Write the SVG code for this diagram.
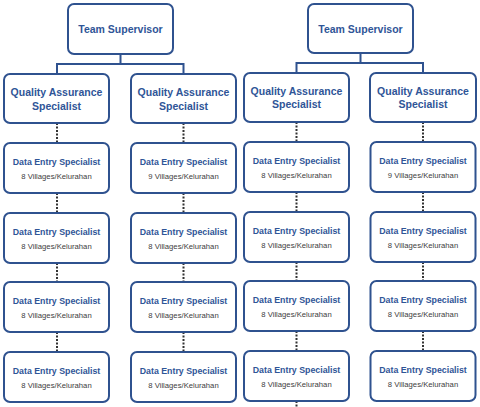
<svg xmlns="http://www.w3.org/2000/svg" width="480" height="407" viewBox="0 0 480 407">
<style>
.box{fill:#fff;stroke:#2f528f;stroke-width:2}
.t{font-family:"Liberation Sans",Arial,sans-serif;font-weight:bold;fill:#2f5597;text-anchor:middle}
.big{font-size:10.5px}
.mid{font-size:8.8px}
.sub{font-family:"Liberation Sans",Arial,sans-serif;font-size:7.7px;fill:#404040;text-anchor:middle}
.solid{fill:none;stroke:#2f528f;stroke-width:2}
.dot{fill:none;stroke:#333;stroke-width:2;stroke-dasharray:2 1.5}
</style>
<defs>
<g id="des">
<rect class="box" x="0" y="0" width="105" height="50" rx="6"/>
<text class="t mid" x="52.5" y="22">Data Entry Specialist</text>
</g>
</defs>
<g id="connectors">
<path class="solid" d="M120.5,54V64M57,64H183.5M57,63V74M183.5,63V74"/>
<path class="solid" d="M360.5,53V63M296.5,63H423M296.5,62V73M423,62V73"/>
<path class="dot" d="M57,123V143M57,193V213M57,263V282M57,332V352"/>
<path class="dot" d="M183.5,123V143M183.5,193V213M183.5,263V282M183.5,332V352"/>
<path class="dot" d="M296.5,122V142M296.5,192V212M296.5,262V281M296.5,331V351M296.5,401V407"/>
<path class="dot" d="M423,122V142M423,192V212M423,262V281M423,331V351"/>
</g>
<g id="ts1"><rect class="box" x="68" y="4" width="105" height="50" rx="6"/><text class="t big" x="120.5" y="33">Team Supervisor</text></g>
<g id="ts2"><rect class="box" x="308" y="4" width="105" height="49" rx="6"/><text class="t big" x="360.5" y="32.5">Team Supervisor</text></g>
<g id="qa1"><rect class="box" x="4" y="74" width="105" height="49" rx="6"/><text class="t big" x="56.5" y="95.5">Quality Assurance</text><text class="t big" x="56.5" y="109.5">Specialist</text></g>
<g id="qa2"><rect class="box" x="131" y="74" width="105" height="49" rx="6"/><text class="t big" x="183.5" y="95.5">Quality Assurance</text><text class="t big" x="183.5" y="109.5">Specialist</text></g>
<g id="qa3"><rect class="box" x="244" y="73" width="105" height="49" rx="6"/><text class="t big" x="296.5" y="94.5">Quality Assurance</text><text class="t big" x="296.5" y="108">Specialist</text></g>
<g id="qa4"><rect class="box" x="370" y="73" width="106" height="49" rx="6"/><text class="t big" x="423" y="94.5">Quality Assurance</text><text class="t big" x="423" y="108">Specialist</text></g>

<g id="d1a" transform="translate(4,143)"><use href="#des"/><text class="sub" x="52.5" y="36">8 Villages/Kelurahan</text></g>
<g id="d1b" transform="translate(4,213)"><use href="#des"/><text class="sub" x="52.5" y="36">8 Villages/Kelurahan</text></g>
<g id="d1c" transform="translate(4,282)"><use href="#des"/><text class="sub" x="52.5" y="36">8 Villages/Kelurahan</text></g>
<g id="d1d" transform="translate(4,352)"><use href="#des"/><text class="sub" x="52.5" y="36">8 Villages/Kelurahan</text></g>

<g id="d2a" transform="translate(131,143)"><use href="#des"/><text class="sub" x="52.5" y="36">9 Villages/Kelurahan</text></g>
<g id="d2b" transform="translate(131,213)"><use href="#des"/><text class="sub" x="52.5" y="36">8 Villages/Kelurahan</text></g>
<g id="d2c" transform="translate(131,282)"><use href="#des"/><text class="sub" x="52.5" y="36">8 Villages/Kelurahan</text></g>
<g id="d2d" transform="translate(131,352)"><use href="#des"/><text class="sub" x="52.5" y="36">8 Villages/Kelurahan</text></g>

<g id="d3a" transform="translate(244,142)"><use href="#des"/><text class="sub" x="52.5" y="36">8 Villages/Kelurahan</text></g>
<g id="d3b" transform="translate(244,212)"><use href="#des"/><text class="sub" x="52.5" y="36">8 Villages/Kelurahan</text></g>
<g id="d3c" transform="translate(244,281)"><use href="#des"/><text class="sub" x="52.5" y="36">8 Villages/Kelurahan</text></g>
<g id="d3d" transform="translate(244,351)"><use href="#des"/><text class="sub" x="52.5" y="36">8 Villages/Kelurahan</text></g>

<g id="d4a" transform="translate(370.5,142)"><use href="#des"/><text class="sub" x="52.5" y="36">9 Villages/Kelurahan</text></g>
<g id="d4b" transform="translate(370.5,212)"><use href="#des"/><text class="sub" x="52.5" y="36">8 Villages/Kelurahan</text></g>
<g id="d4c" transform="translate(370.5,281)"><use href="#des"/><text class="sub" x="52.5" y="36">8 Villages/Kelurahan</text></g>
<g id="d4d" transform="translate(370.5,351)"><use href="#des"/><text class="sub" x="52.5" y="36">8 Villages/Kelurahan</text></g>
</svg>
